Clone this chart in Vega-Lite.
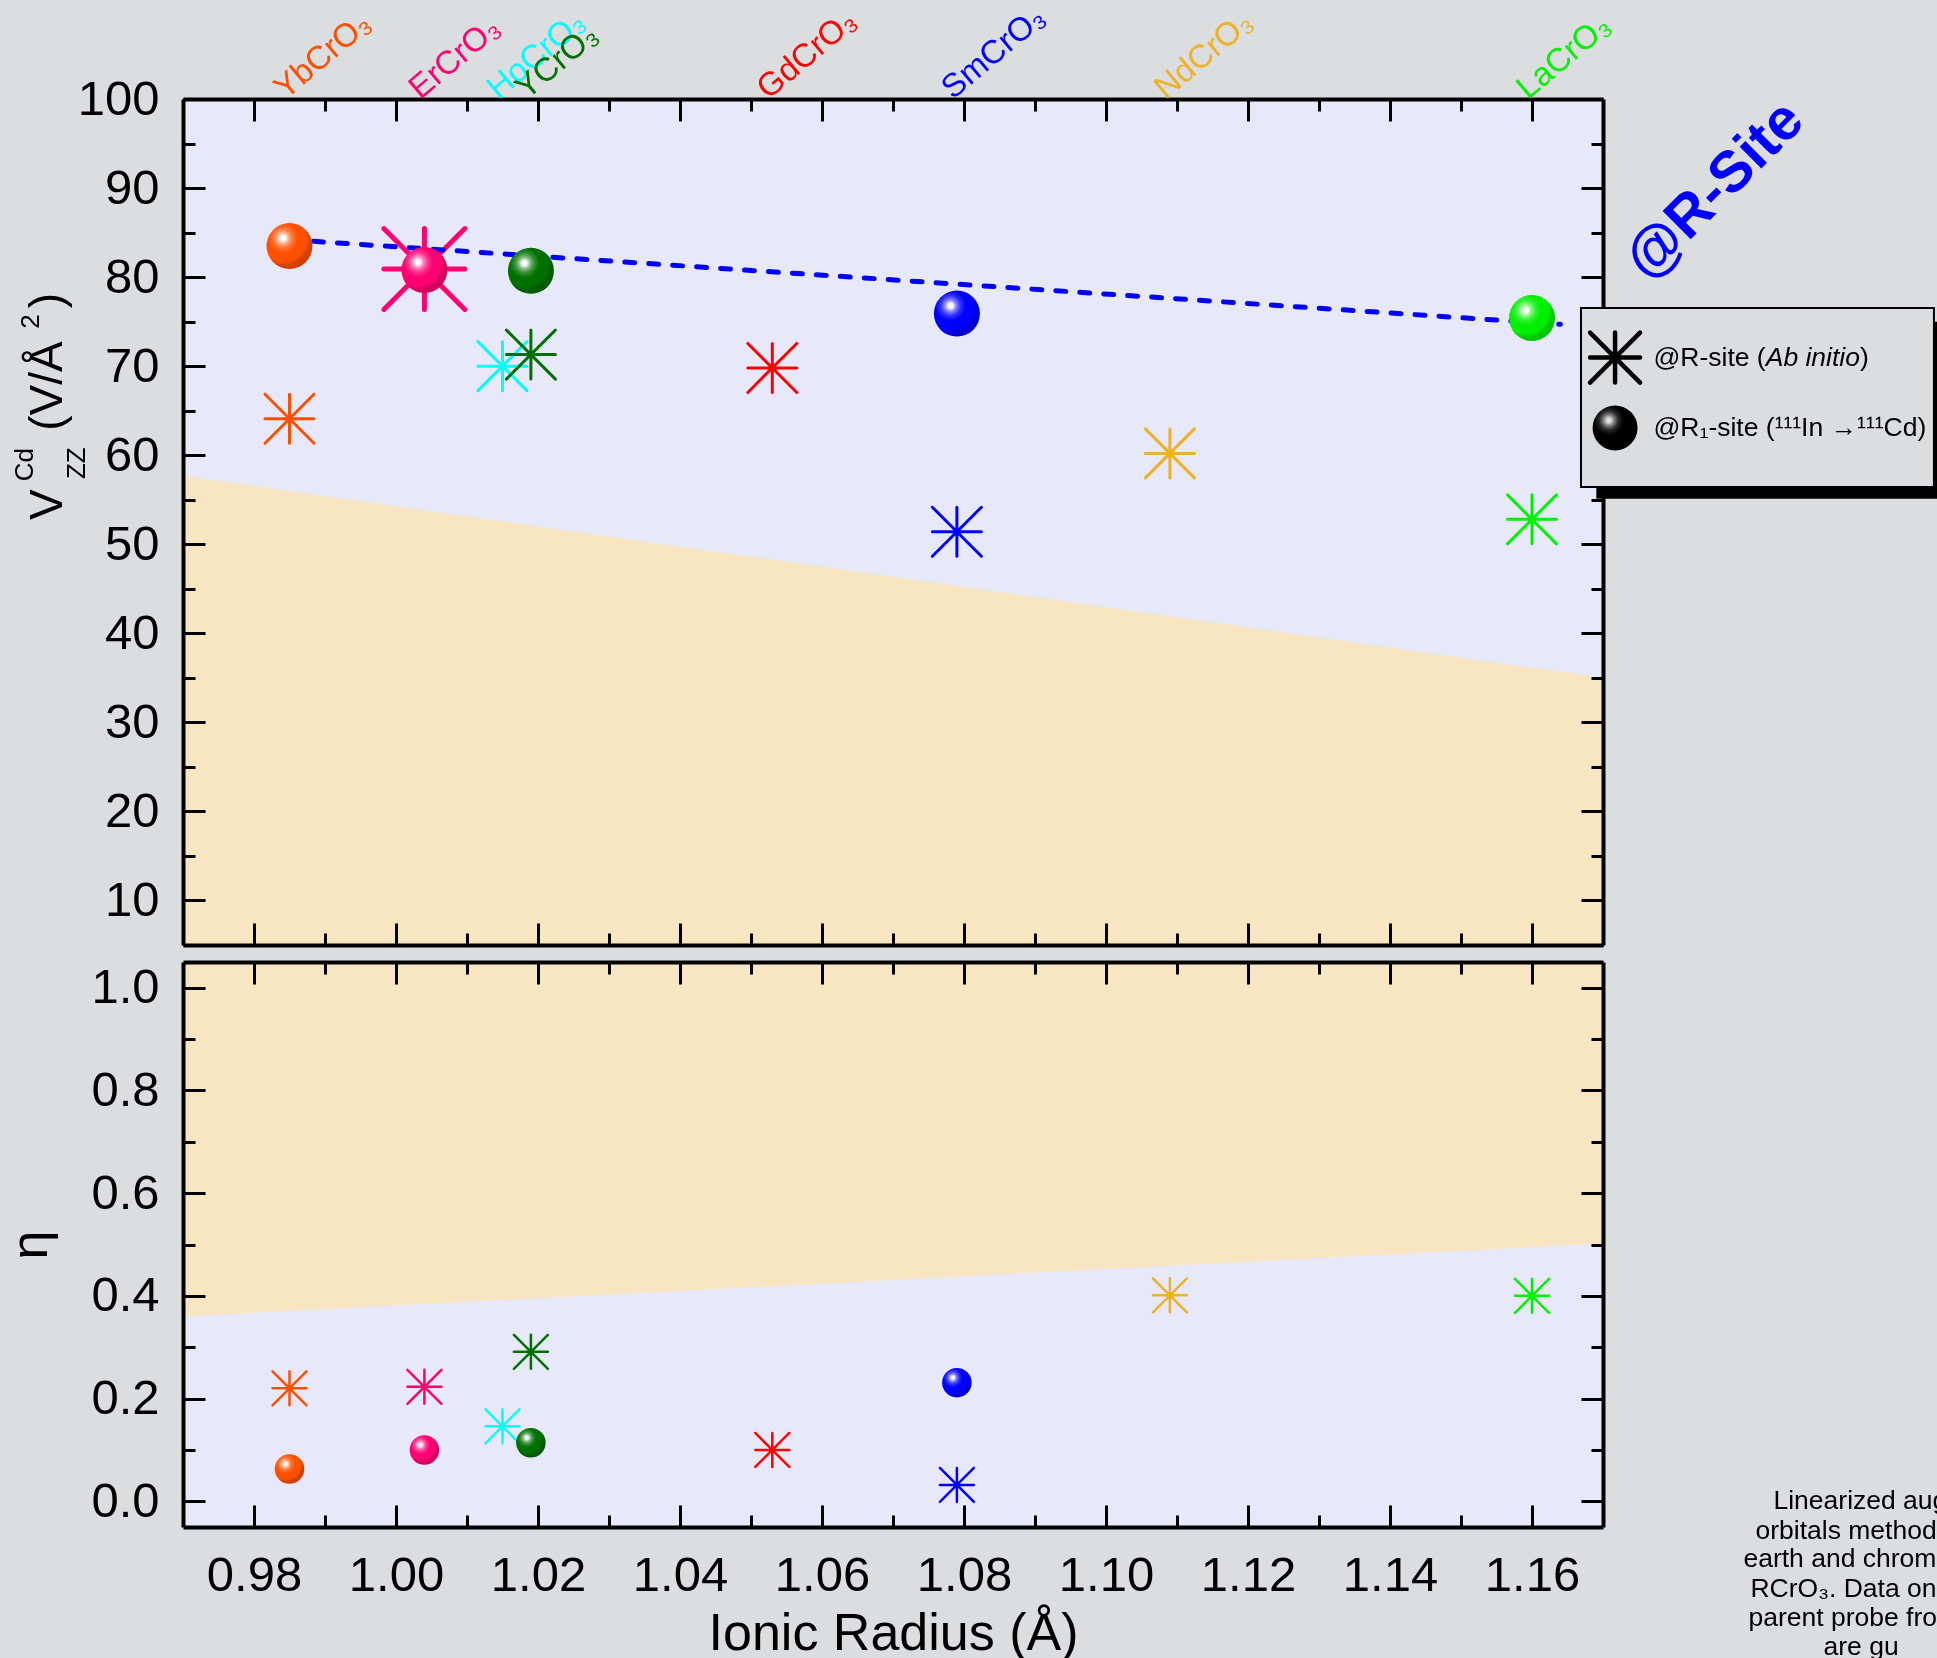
{
  "$schema": "https://vega.github.io/schema/vega-lite/v6.json",
  "background": "#DCDDDF",
  "padding": {"left": 4, "top": 0, "right": 0, "bottom": 40},
  "spacing": 13,
  "datasets": {
    "rcro3": [
      {"el": "Yb", "label": "YbCrO₃", "r": 0.985, "vzz_calc": 64.1, "vzz_exp": 83.5, "eta_calc": 0.22, "eta_exp": 0.063},
      {"el": "Er", "label": "ErCrO₃", "r": 1.004, "vzz_calc": 80.9, "vzz_exp": 80.8, "eta_calc": 0.223, "eta_exp": 0.1},
      {"el": "Ho", "label": "HoCrO₃", "r": 1.015, "vzz_calc": 70.0, "vzz_exp": null, "eta_calc": 0.146, "eta_exp": null},
      {"el": "Y", "label": "YCrO₃", "r": 1.019, "vzz_calc": 71.3, "vzz_exp": 80.7, "eta_calc": 0.291, "eta_exp": 0.114},
      {"el": "Gd", "label": "GdCrO₃", "r": 1.053, "vzz_calc": 69.8, "vzz_exp": null, "eta_calc": 0.1, "eta_exp": null},
      {"el": "Sm", "label": "SmCrO₃", "r": 1.079, "vzz_calc": 51.4, "vzz_exp": 75.9, "eta_calc": 0.032, "eta_exp": 0.231},
      {"el": "Nd", "label": "NdCrO₃", "r": 1.109, "vzz_calc": 60.2, "vzz_exp": null, "eta_calc": 0.401, "eta_exp": null},
      {"el": "La", "label": "LaCrO₃", "r": 1.16, "vzz_calc": 52.8, "vzz_exp": 75.4, "eta_calc": 0.4, "eta_exp": null}
    ],
    "vzz_fit": [{"r": 0.985, "vzz": 84.2}, {"r": 1.164, "vzz": 74.7}],
    "vzz_band": [{"r": 0.97, "vzz": 57.7}, {"r": 1.17, "vzz": 35.0}],
    "eta_band": [{"r": 0.97, "eta": 0.36}, {"r": 1.17, "eta": 0.502}],
    "one": [{}]
  },
  "vconcat": [
    {
      "width": 1420,
      "height": 846,
      "resolve": {"axis": {"x": "independent", "y": "independent"}},
      "layer": [
        {
          "data": {"name": "vzz_band"},
          "mark": {"type": "area", "color": "#E8E8FB", "blend": "multiply"},
          "encoding": {
            "x": {"field": "r", "type": "quantitative", "scale": {"domain": [0.97, 1.17], "nice": false, "zero": false},
                  "axis": {"orient": "bottom", "values": [0.98, 1, 1.02, 1.04, 1.06, 1.08, 1.1, 1.12, 1.14, 1.16], "tickSize": -22, "labels": false, "title": null}},
            "y": {"field": "vzz", "type": "quantitative", "scale": {"domain": [5, 100], "nice": false, "zero": false},
                  "axis": {"orient": "left", "values": [10, 20, 30, 40, 50, 60, 70, 80, 90, 100], "tickSize": -22, "labelPadding": 46, "title": null}},
            "y2": {"datum": 100}
          }
        },
        {
          "data": {"name": "vzz_band"},
          "mark": {"type": "area", "color": "#F8E6C3", "blend": "multiply"},
          "encoding": {
            "x": {"field": "r", "type": "quantitative", "scale": {"domain": [0.97, 1.17], "nice": false, "zero": false},
                  "axis": {"orient": "bottom", "values": [0.99, 1.01, 1.03, 1.05, 1.07, 1.09, 1.11, 1.13, 1.15], "tickSize": -12, "labels": false, "domain": false, "title": null}},
            "y": {"field": "vzz", "type": "quantitative", "scale": {"domain": [5, 100], "nice": false, "zero": false},
                  "axis": {"orient": "left", "values": [5, 15, 25, 35, 45, 55, 65, 75, 85, 95], "tickSize": -12, "labels": false, "domain": false, "title": null}},
            "y2": {"datum": 5}
          }
        },
        {
          "data": {"name": "rcro3"},
          "mark": {"type": "point", "shape": "M-1,0L1,0M0,-1L0,1M-1,-1L1,1M-1,1L1,-1", "filled": false, "strokeCap": "round", "opacity": 1},
          "encoding": {
            "x": {"field": "r", "type": "quantitative", "scale": {"domain": [0.97, 1.17], "nice": false, "zero": false},
                  "axis": {"orient": "top", "values": [0.98, 1, 1.02, 1.04, 1.06, 1.08, 1.1, 1.12, 1.14, 1.16], "tickSize": -22, "labels": false, "title": null}},
            "y": {"field": "vzz_calc", "type": "quantitative", "scale": {"domain": [5, 100], "nice": false, "zero": false},
                  "axis": {"orient": "right", "values": [10, 20, 30, 40, 50, 60, 70, 80, 90, 100], "tickSize": -22, "labels": false, "title": null}},
            "color": {"field": "el", "type": "nominal", "legend": null,
                      "scale": {"domain": ["Yb", "Er", "Ho", "Y", "Gd", "Sm", "Nd", "La"], "range": ["#FF5000", "#FF0072", "#00FFFF", "#007000", "#FF0000", "#0000FF", "#EEB22A", "#00F000"]}},
            "size": {"condition": {"test": "datum.el === 'Er'", "value": 6561}, "value": 2401},
            "strokeWidth": {"condition": {"test": "datum.el === 'Er'", "value": 5}, "value": 3}
          }
        },
        {
          "data": {"name": "vzz_fit"},
          "mark": {"type": "line", "color": "#0000FF", "strokeWidth": 5, "strokeDash": [10, 14], "strokeCap": "round"},
          "encoding": {
            "x": {"field": "r", "type": "quantitative", "scale": {"domain": [0.97, 1.17], "nice": false, "zero": false},
                  "axis": {"orient": "top", "values": [0.99, 1.01, 1.03, 1.05, 1.07, 1.09, 1.11, 1.13, 1.15], "tickSize": -12, "labels": false, "domain": false, "title": null}},
            "y": {"field": "vzz", "type": "quantitative", "scale": {"domain": [5, 100], "nice": false, "zero": false},
                  "axis": {"orient": "right", "values": [5, 15, 25, 35, 45, 55, 65, 75, 85, 95], "tickSize": -12, "labels": false, "domain": false, "title": null}}
          }
        },
        {
          "data": {"name": "rcro3"},
          "mark": {"type": "point", "shape": "circle", "filled": true, "opacity": 1, "strokeWidth": 0},
          "encoding": {
            "x": {"field": "r", "type": "quantitative", "scale": {"domain": [0.97, 1.17], "nice": false, "zero": false}, "axis": null},
            "y": {"field": "vzz_exp", "type": "quantitative", "scale": {"domain": [5, 100], "nice": false, "zero": false}, "axis": null},
            "color": {"field": "el", "type": "nominal", "legend": null,
                      "scale": {"domain": ["Yb", "Er", "Ho", "Y", "Gd", "Sm", "Nd", "La"], "range": ["#FF5000", "#FF0072", "#00FFFF", "#007000", "#FF0000", "#0000FF", "#EEB22A", "#00F000"]}},
            "size": {"value": 2116}
          }
        },
        {
          "data": {"name": "rcro3"},
          "mark": {"type": "point", "shape": "circle", "filled": true, "opacity": 1, "strokeWidth": 0,
                   "fill": {"gradient": "radial", "x1": 0.36, "y1": 0.33, "r1": 0, "x2": 0.36, "y2": 0.33, "r2": 0.6,
                            "stops": [{"offset": 0, "color": "rgba(255,255,255,1)"}, {"offset": 0.1, "color": "rgba(255,255,255,0.95)"},
                                      {"offset": 0.2, "color": "rgba(255,255,255,0.55)"}, {"offset": 0.36, "color": "rgba(255,255,255,0.2)"},
                                      {"offset": 0.55, "color": "rgba(255,255,255,0)"}, {"offset": 0.85, "color": "rgba(0,0,0,0)"},
                                      {"offset": 1, "color": "rgba(0,0,0,0.18)"}]}},
          "encoding": {
            "x": {"field": "r", "type": "quantitative", "scale": {"domain": [0.97, 1.17], "nice": false, "zero": false}, "axis": null},
            "y": {"field": "vzz_exp", "type": "quantitative", "scale": {"domain": [5, 100], "nice": false, "zero": false}, "axis": null},
            "size": {"value": 2116}
          }
        },
        {
          "data": {"name": "rcro3"},
          "mark": {"type": "text", "angle": 320, "align": "left", "baseline": "alphabetic", "dx": -3.9, "dy": -1.7, "fontSize": 33, "font": "Liberation Sans", "clip": false},
          "encoding": {
            "x": {"field": "r", "type": "quantitative", "scale": {"domain": [0.97, 1.17], "nice": false, "zero": false}, "axis": null},
            "y": {"datum": 100, "type": "quantitative", "scale": {"domain": [5, 100], "nice": false, "zero": false}, "axis": null},
            "text": {"field": "label"},
            "color": {"field": "el", "type": "nominal", "legend": null,
                      "scale": {"domain": ["Yb", "Er", "Ho", "Y", "Gd", "Sm", "Nd", "La"], "range": ["#FF5000", "#FF0072", "#00FFFF", "#007000", "#FF0000", "#0000FF", "#EEB22A", "#00F000"]}}
          }
        },
        {
          "data": {"name": "one"},
          "mark": {"type": "text", "angle": 270, "align": "center", "baseline": "alphabetic", "fontSize": 46, "font": "Liberation Sans", "color": "#000", "clip": false},
          "encoding": {
            "x": {"datum": 0.95293, "type": "quantitative", "scale": {"domain": [0.97, 1.17], "nice": false, "zero": false}, "axis": null},
            "y": {"datum": 54.44, "type": "quantitative", "scale": {"domain": [5, 100], "nice": false, "zero": false}, "axis": null},
            "text": {"value": "V"}
          }
        },
        {
          "data": {"name": "one"},
          "mark": {"type": "text", "angle": 270, "align": "center", "baseline": "alphabetic", "fontSize": 26, "font": "Liberation Sans", "color": "#000", "clip": false},
          "encoding": {
            "x": {"datum": 0.94884, "type": "quantitative", "scale": {"domain": [0.97, 1.17], "nice": false, "zero": false}, "axis": null},
            "y": {"datum": 58.93, "type": "quantitative", "scale": {"domain": [5, 100], "nice": false, "zero": false}, "axis": null},
            "text": {"value": "Cd"}
          }
        },
        {
          "data": {"name": "one"},
          "mark": {"type": "text", "angle": 270, "align": "center", "baseline": "alphabetic", "fontSize": 26, "font": "Liberation Sans", "color": "#000", "clip": false},
          "encoding": {
            "x": {"datum": 0.95617, "type": "quantitative", "scale": {"domain": [0.97, 1.17], "nice": false, "zero": false}, "axis": null},
            "y": {"datum": 59.1, "type": "quantitative", "scale": {"domain": [5, 100], "nice": false, "zero": false}, "axis": null},
            "text": {"value": "ZZ"}
          }
        },
        {
          "data": {"name": "one"},
          "mark": {"type": "text", "angle": 270, "align": "left", "baseline": "alphabetic", "fontSize": 46, "font": "Liberation Sans", "color": "#000", "clip": false},
          "encoding": {
            "x": {"datum": 0.95293, "type": "quantitative", "scale": {"domain": [0.97, 1.17], "nice": false, "zero": false}, "axis": null},
            "y": {"datum": 62.75, "type": "quantitative", "scale": {"domain": [5, 100], "nice": false, "zero": false}, "axis": null},
            "text": {"value": "(V/Å"}
          }
        },
        {
          "data": {"name": "one"},
          "mark": {"type": "text", "angle": 270, "align": "center", "baseline": "alphabetic", "fontSize": 26, "font": "Liberation Sans", "color": "#000", "clip": false},
          "encoding": {
            "x": {"datum": 0.9497, "type": "quantitative", "scale": {"domain": [0.97, 1.17], "nice": false, "zero": false}, "axis": null},
            "y": {"datum": 75.0, "type": "quantitative", "scale": {"domain": [5, 100], "nice": false, "zero": false}, "axis": null},
            "text": {"value": "2"}
          }
        },
        {
          "data": {"name": "one"},
          "mark": {"type": "text", "angle": 270, "align": "left", "baseline": "alphabetic", "fontSize": 46, "font": "Liberation Sans", "color": "#000", "clip": false},
          "encoding": {
            "x": {"datum": 0.95293, "type": "quantitative", "scale": {"domain": [0.97, 1.17], "nice": false, "zero": false}, "axis": null},
            "y": {"datum": 76.5, "type": "quantitative", "scale": {"domain": [5, 100], "nice": false, "zero": false}, "axis": null},
            "text": {"value": ")"}
          }
        },
        {
          "data": {"name": "one"},
          "mark": {"type": "text", "angle": 315, "align": "center", "baseline": "middle", "fontSize": 58, "fontWeight": "bold", "font": "Liberation Sans", "color": "#0000FF", "clip": false},
          "encoding": {
            "x": {"datum": 1.1858, "type": "quantitative", "scale": {"domain": [0.97, 1.17], "nice": false, "zero": false}, "axis": null},
            "y": {"datum": 89.7, "type": "quantitative", "scale": {"domain": [5, 100], "nice": false, "zero": false}, "axis": null},
            "text": {"value": "@R-Site"}
          }
        },
        {
          "data": {"name": "one"},
          "mark": {"type": "rect", "color": "#000", "clip": false},
          "encoding": {
            "x": {"datum": 1.16906, "type": "quantitative", "scale": {"domain": [0.97, 1.17], "nice": false, "zero": false}, "axis": null},
            "x2": {"datum": 1.2204},
            "y": {"datum": 75.0, "type": "quantitative", "scale": {"domain": [5, 100], "nice": false, "zero": false}, "axis": null},
            "y2": {"datum": 55.11}
          }
        },
        {
          "data": {"name": "one"},
          "mark": {"type": "rect", "fill": "#DCDDDF", "stroke": "#000", "strokeWidth": 2, "clip": false},
          "encoding": {
            "x": {"datum": 1.1669, "type": "quantitative", "scale": {"domain": [0.97, 1.17], "nice": false, "zero": false}, "axis": null},
            "x2": {"datum": 1.21661},
            "y": {"datum": 76.54, "type": "quantitative", "scale": {"domain": [5, 100], "nice": false, "zero": false}, "axis": null},
            "y2": {"datum": 56.43}
          }
        },
        {
          "data": {"name": "one"},
          "mark": {"type": "point", "shape": "M-1,0L1,0M0,-1L0,1M-1,-1L1,1M-1,1L1,-1", "filled": false, "stroke": "#000", "strokeWidth": 4.5, "strokeCap": "round", "size": 2500, "opacity": 1, "clip": false},
          "encoding": {
            "x": {"datum": 1.1717, "type": "quantitative", "scale": {"domain": [0.97, 1.17], "nice": false, "zero": false}, "axis": null},
            "y": {"datum": 70.96, "type": "quantitative", "scale": {"domain": [5, 100], "nice": false, "zero": false}, "axis": null}
          }
        },
        {
          "data": {"name": "one"},
          "mark": {"type": "point", "shape": "circle", "filled": true, "color": "#000", "strokeWidth": 0, "size": 2025, "opacity": 1, "clip": false},
          "encoding": {
            "x": {"datum": 1.1717, "type": "quantitative", "scale": {"domain": [0.97, 1.17], "nice": false, "zero": false}, "axis": null},
            "y": {"datum": 63.06, "type": "quantitative", "scale": {"domain": [5, 100], "nice": false, "zero": false}, "axis": null}
          }
        },
        {
          "data": {"name": "one"},
          "mark": {"type": "point", "shape": "circle", "filled": true, "strokeWidth": 0, "size": 2025, "opacity": 1, "clip": false,
                   "fill": {"gradient": "radial", "x1": 0.36, "y1": 0.33, "r1": 0, "x2": 0.36, "y2": 0.33, "r2": 0.6,
                            "stops": [{"offset": 0, "color": "rgba(255,255,255,0.95)"}, {"offset": 0.1, "color": "rgba(255,255,255,0.8)"},
                                      {"offset": 0.2, "color": "rgba(255,255,255,0.5)"}, {"offset": 0.36, "color": "rgba(255,255,255,0.15)"},
                                      {"offset": 0.55, "color": "rgba(255,255,255,0)"}, {"offset": 1, "color": "rgba(0,0,0,0)"}]}},
          "encoding": {
            "x": {"datum": 1.1717, "type": "quantitative", "scale": {"domain": [0.97, 1.17], "nice": false, "zero": false}, "axis": null},
            "y": {"datum": 63.06, "type": "quantitative", "scale": {"domain": [5, 100], "nice": false, "zero": false}, "axis": null}
          }
        },
        {
          "data": {"name": "one"},
          "mark": {"type": "text", "align": "left", "baseline": "middle", "fontSize": 26.5, "font": "Liberation Sans", "color": "#000", "clip": false},
          "encoding": {
            "x": {"datum": 1.1771, "type": "quantitative", "scale": {"domain": [0.97, 1.17], "nice": false, "zero": false}, "axis": null},
            "y": {"datum": 70.96, "type": "quantitative", "scale": {"domain": [5, 100], "nice": false, "zero": false}, "axis": null},
            "text": {"value": "@R-site ("}
          }
        },
        {
          "data": {"name": "one"},
          "mark": {"type": "text", "align": "left", "baseline": "middle", "fontSize": 26.5, "fontStyle": "italic", "dx": 112.3, "font": "Liberation Sans", "color": "#000", "clip": false},
          "encoding": {
            "x": {"datum": 1.1771, "type": "quantitative", "scale": {"domain": [0.97, 1.17], "nice": false, "zero": false}, "axis": null},
            "y": {"datum": 70.96, "type": "quantitative", "scale": {"domain": [5, 100], "nice": false, "zero": false}, "axis": null},
            "text": {"value": "Ab initio"}
          }
        },
        {
          "data": {"name": "one"},
          "mark": {"type": "text", "align": "left", "baseline": "middle", "fontSize": 26.5, "dx": 206.6, "font": "Liberation Sans", "color": "#000", "clip": false},
          "encoding": {
            "x": {"datum": 1.1771, "type": "quantitative", "scale": {"domain": [0.97, 1.17], "nice": false, "zero": false}, "axis": null},
            "y": {"datum": 70.96, "type": "quantitative", "scale": {"domain": [5, 100], "nice": false, "zero": false}, "axis": null},
            "text": {"value": ")"}
          }
        },
        {
          "data": {"name": "one"},
          "mark": {"type": "text", "align": "left", "baseline": "middle", "fontSize": 26.5, "font": "Liberation Sans", "color": "#000", "clip": false},
          "encoding": {
            "x": {"datum": 1.1771, "type": "quantitative", "scale": {"domain": [0.97, 1.17], "nice": false, "zero": false}, "axis": null},
            "y": {"datum": 63.06, "type": "quantitative", "scale": {"domain": [5, 100], "nice": false, "zero": false}, "axis": null},
            "text": {"value": "@R₁-site (¹¹¹In →¹¹¹Cd)"}
          }
        }
      ]
    },
    {
      "width": 1420,
      "height": 565,
      "resolve": {"axis": {"x": "independent", "y": "independent"}},
      "layer": [
        {
          "data": {"name": "eta_band"},
          "mark": {"type": "area", "color": "#E8E8FB", "blend": "multiply"},
          "encoding": {
            "x": {"field": "r", "type": "quantitative", "scale": {"domain": [0.97, 1.17], "nice": false, "zero": false},
                  "axis": {"orient": "bottom", "values": [0.98, 1, 1.02, 1.04, 1.06, 1.08, 1.1, 1.12, 1.14, 1.16], "format": ".2f", "tickSize": -22, "labelPadding": 46, "title": "Ionic Radius (Å)", "titlePadding": 8}},
            "y": {"field": "eta", "type": "quantitative", "scale": {"domain": [-0.05, 1.05], "nice": false, "zero": false},
                  "axis": {"orient": "left", "values": [0, 0.2, 0.4, 0.6, 0.8, 1], "format": ".1f", "tickSize": -22, "labelPadding": 46, "title": "η", "titlePadding": 33}},
            "y2": {"datum": -0.05}
          }
        },
        {
          "data": {"name": "eta_band"},
          "mark": {"type": "area", "color": "#F8E6C3", "blend": "multiply"},
          "encoding": {
            "x": {"field": "r", "type": "quantitative", "scale": {"domain": [0.97, 1.17], "nice": false, "zero": false},
                  "axis": {"orient": "bottom", "values": [0.99, 1.01, 1.03, 1.05, 1.07, 1.09, 1.11, 1.13, 1.15], "tickSize": -12, "labels": false, "domain": false, "title": null}},
            "y": {"field": "eta", "type": "quantitative", "scale": {"domain": [-0.05, 1.05], "nice": false, "zero": false},
                  "axis": {"orient": "left", "values": [0.1, 0.3, 0.5, 0.7, 0.9], "tickSize": -12, "labels": false, "domain": false, "title": null}},
            "y2": {"datum": 1.05}
          }
        },
        {
          "data": {"name": "rcro3"},
          "mark": {"type": "point", "shape": "M-1,0L1,0M0,-1L0,1M-1,-1L1,1M-1,1L1,-1", "filled": false, "strokeCap": "round", "strokeWidth": 2.5, "size": 1156, "opacity": 1},
          "encoding": {
            "x": {"field": "r", "type": "quantitative", "scale": {"domain": [0.97, 1.17], "nice": false, "zero": false},
                  "axis": {"orient": "top", "values": [0.98, 1, 1.02, 1.04, 1.06, 1.08, 1.1, 1.12, 1.14, 1.16], "tickSize": -22, "labels": false, "title": null}},
            "y": {"field": "eta_calc", "type": "quantitative", "scale": {"domain": [-0.05, 1.05], "nice": false, "zero": false},
                  "axis": {"orient": "right", "values": [0, 0.2, 0.4, 0.6, 0.8, 1], "tickSize": -22, "labels": false, "title": null}},
            "color": {"field": "el", "type": "nominal", "legend": null,
                      "scale": {"domain": ["Yb", "Er", "Ho", "Y", "Gd", "Sm", "Nd", "La"], "range": ["#FF5000", "#FF0072", "#00FFFF", "#007000", "#FF0000", "#0000FF", "#EEB22A", "#00F000"]}}
          }
        },
        {
          "data": {"name": "rcro3"},
          "mark": {"type": "point", "shape": "circle", "filled": true, "opacity": 1, "strokeWidth": 0, "size": 870},
          "encoding": {
            "x": {"field": "r", "type": "quantitative", "scale": {"domain": [0.97, 1.17], "nice": false, "zero": false},
                  "axis": {"orient": "top", "values": [0.99, 1.01, 1.03, 1.05, 1.07, 1.09, 1.11, 1.13, 1.15], "tickSize": -12, "labels": false, "domain": false, "title": null}},
            "y": {"field": "eta_exp", "type": "quantitative", "scale": {"domain": [-0.05, 1.05], "nice": false, "zero": false},
                  "axis": {"orient": "right", "values": [0.1, 0.3, 0.5, 0.7, 0.9], "tickSize": -12, "labels": false, "domain": false, "title": null}},
            "color": {"field": "el", "type": "nominal", "legend": null,
                      "scale": {"domain": ["Yb", "Er", "Ho", "Y", "Gd", "Sm", "Nd", "La"], "range": ["#FF5000", "#FF0072", "#00FFFF", "#007000", "#FF0000", "#0000FF", "#EEB22A", "#00F000"]}}
          }
        },
        {
          "data": {"name": "rcro3"},
          "mark": {"type": "point", "shape": "circle", "filled": true, "opacity": 1, "strokeWidth": 0, "size": 870,
                   "fill": {"gradient": "radial", "x1": 0.36, "y1": 0.33, "r1": 0, "x2": 0.36, "y2": 0.33, "r2": 0.6,
                            "stops": [{"offset": 0, "color": "rgba(255,255,255,1)"}, {"offset": 0.1, "color": "rgba(255,255,255,0.95)"},
                                      {"offset": 0.2, "color": "rgba(255,255,255,0.55)"}, {"offset": 0.36, "color": "rgba(255,255,255,0.2)"},
                                      {"offset": 0.55, "color": "rgba(255,255,255,0)"}, {"offset": 0.85, "color": "rgba(0,0,0,0)"},
                                      {"offset": 1, "color": "rgba(0,0,0,0.18)"}]}},
          "encoding": {
            "x": {"field": "r", "type": "quantitative", "scale": {"domain": [0.97, 1.17], "nice": false, "zero": false}, "axis": null},
            "y": {"field": "eta_exp", "type": "quantitative", "scale": {"domain": [-0.05, 1.05], "nice": false, "zero": false}, "axis": null}
          }
        },
        {
          "data": {"name": "one"},
          "mark": {"type": "text", "align": "left", "baseline": "alphabetic", "fontSize": 26.5, "font": "Liberation Sans", "color": "#000", "clip": false},
          "encoding": {
            "x": {"datum": 1.19401, "type": "quantitative", "scale": {"domain": [0.97, 1.17], "nice": false, "zero": false}, "axis": null},
            "y": {"datum": -0.015, "type": "quantitative", "scale": {"domain": [-0.05, 1.05], "nice": false, "zero": false}, "axis": null},
            "text": {"value": "Linearized aug"}
          }
        },
        {
          "data": {"name": "one"},
          "mark": {"type": "text", "align": "left", "baseline": "alphabetic", "fontSize": 26.5, "font": "Liberation Sans", "color": "#000", "clip": false},
          "encoding": {
            "x": {"datum": 1.19148, "type": "quantitative", "scale": {"domain": [0.97, 1.17], "nice": false, "zero": false}, "axis": null},
            "y": {"datum": -0.0731, "type": "quantitative", "scale": {"domain": [-0.05, 1.05], "nice": false, "zero": false}, "axis": null},
            "text": {"value": "orbitals method"}
          }
        },
        {
          "data": {"name": "one"},
          "mark": {"type": "text", "align": "left", "baseline": "alphabetic", "fontSize": 26.5, "font": "Liberation Sans", "color": "#000", "clip": false},
          "encoding": {
            "x": {"datum": 1.18978, "type": "quantitative", "scale": {"domain": [0.97, 1.17], "nice": false, "zero": false}, "axis": null},
            "y": {"datum": -0.1278, "type": "quantitative", "scale": {"domain": [-0.05, 1.05], "nice": false, "zero": false}, "axis": null},
            "text": {"value": "earth and chrom"}
          }
        },
        {
          "data": {"name": "one"},
          "mark": {"type": "text", "align": "left", "baseline": "alphabetic", "fontSize": 26.5, "font": "Liberation Sans", "color": "#000", "clip": false},
          "encoding": {
            "x": {"datum": 1.19077, "type": "quantitative", "scale": {"domain": [0.97, 1.17], "nice": false, "zero": false}, "axis": null},
            "y": {"datum": -0.1861, "type": "quantitative", "scale": {"domain": [-0.05, 1.05], "nice": false, "zero": false}, "axis": null},
            "text": {"value": "RCrO₃. Data on"}
          }
        },
        {
          "data": {"name": "one"},
          "mark": {"type": "text", "align": "left", "baseline": "alphabetic", "fontSize": 26.5, "font": "Liberation Sans", "color": "#000", "clip": false},
          "encoding": {
            "x": {"datum": 1.19049, "type": "quantitative", "scale": {"domain": [0.97, 1.17], "nice": false, "zero": false}, "axis": null},
            "y": {"datum": -0.2425, "type": "quantitative", "scale": {"domain": [-0.05, 1.05], "nice": false, "zero": false}, "axis": null},
            "text": {"value": "parent probe fro"}
          }
        },
        {
          "data": {"name": "one"},
          "mark": {"type": "text", "align": "left", "baseline": "alphabetic", "fontSize": 26.5, "font": "Liberation Sans", "color": "#000", "clip": false},
          "encoding": {
            "x": {"datum": 1.20106, "type": "quantitative", "scale": {"domain": [0.97, 1.17], "nice": false, "zero": false}, "axis": null},
            "y": {"datum": -0.3, "type": "quantitative", "scale": {"domain": [-0.05, 1.05], "nice": false, "zero": false}, "axis": null},
            "text": {"value": "are gu"}
          }
        }
      ]
    }
  ],
  "config": {
    "view": {"fill": "#FFFFFF", "stroke": null},
    "axis": {"domainColor": "#000", "domainWidth": 4, "tickColor": "#000", "tickWidth": 3, "grid": false, "zindex": 0,
             "labelFont": "Liberation Sans", "labelFontSize": 49, "labelColor": "#000", "labelFlush": false, "labelOverlap": false,
             "titleFont": "Liberation Sans", "titleFontSize": 52, "titleFontWeight": "normal", "titleColor": "#000"},
    "text": {"font": "Liberation Sans"}
  }
}
